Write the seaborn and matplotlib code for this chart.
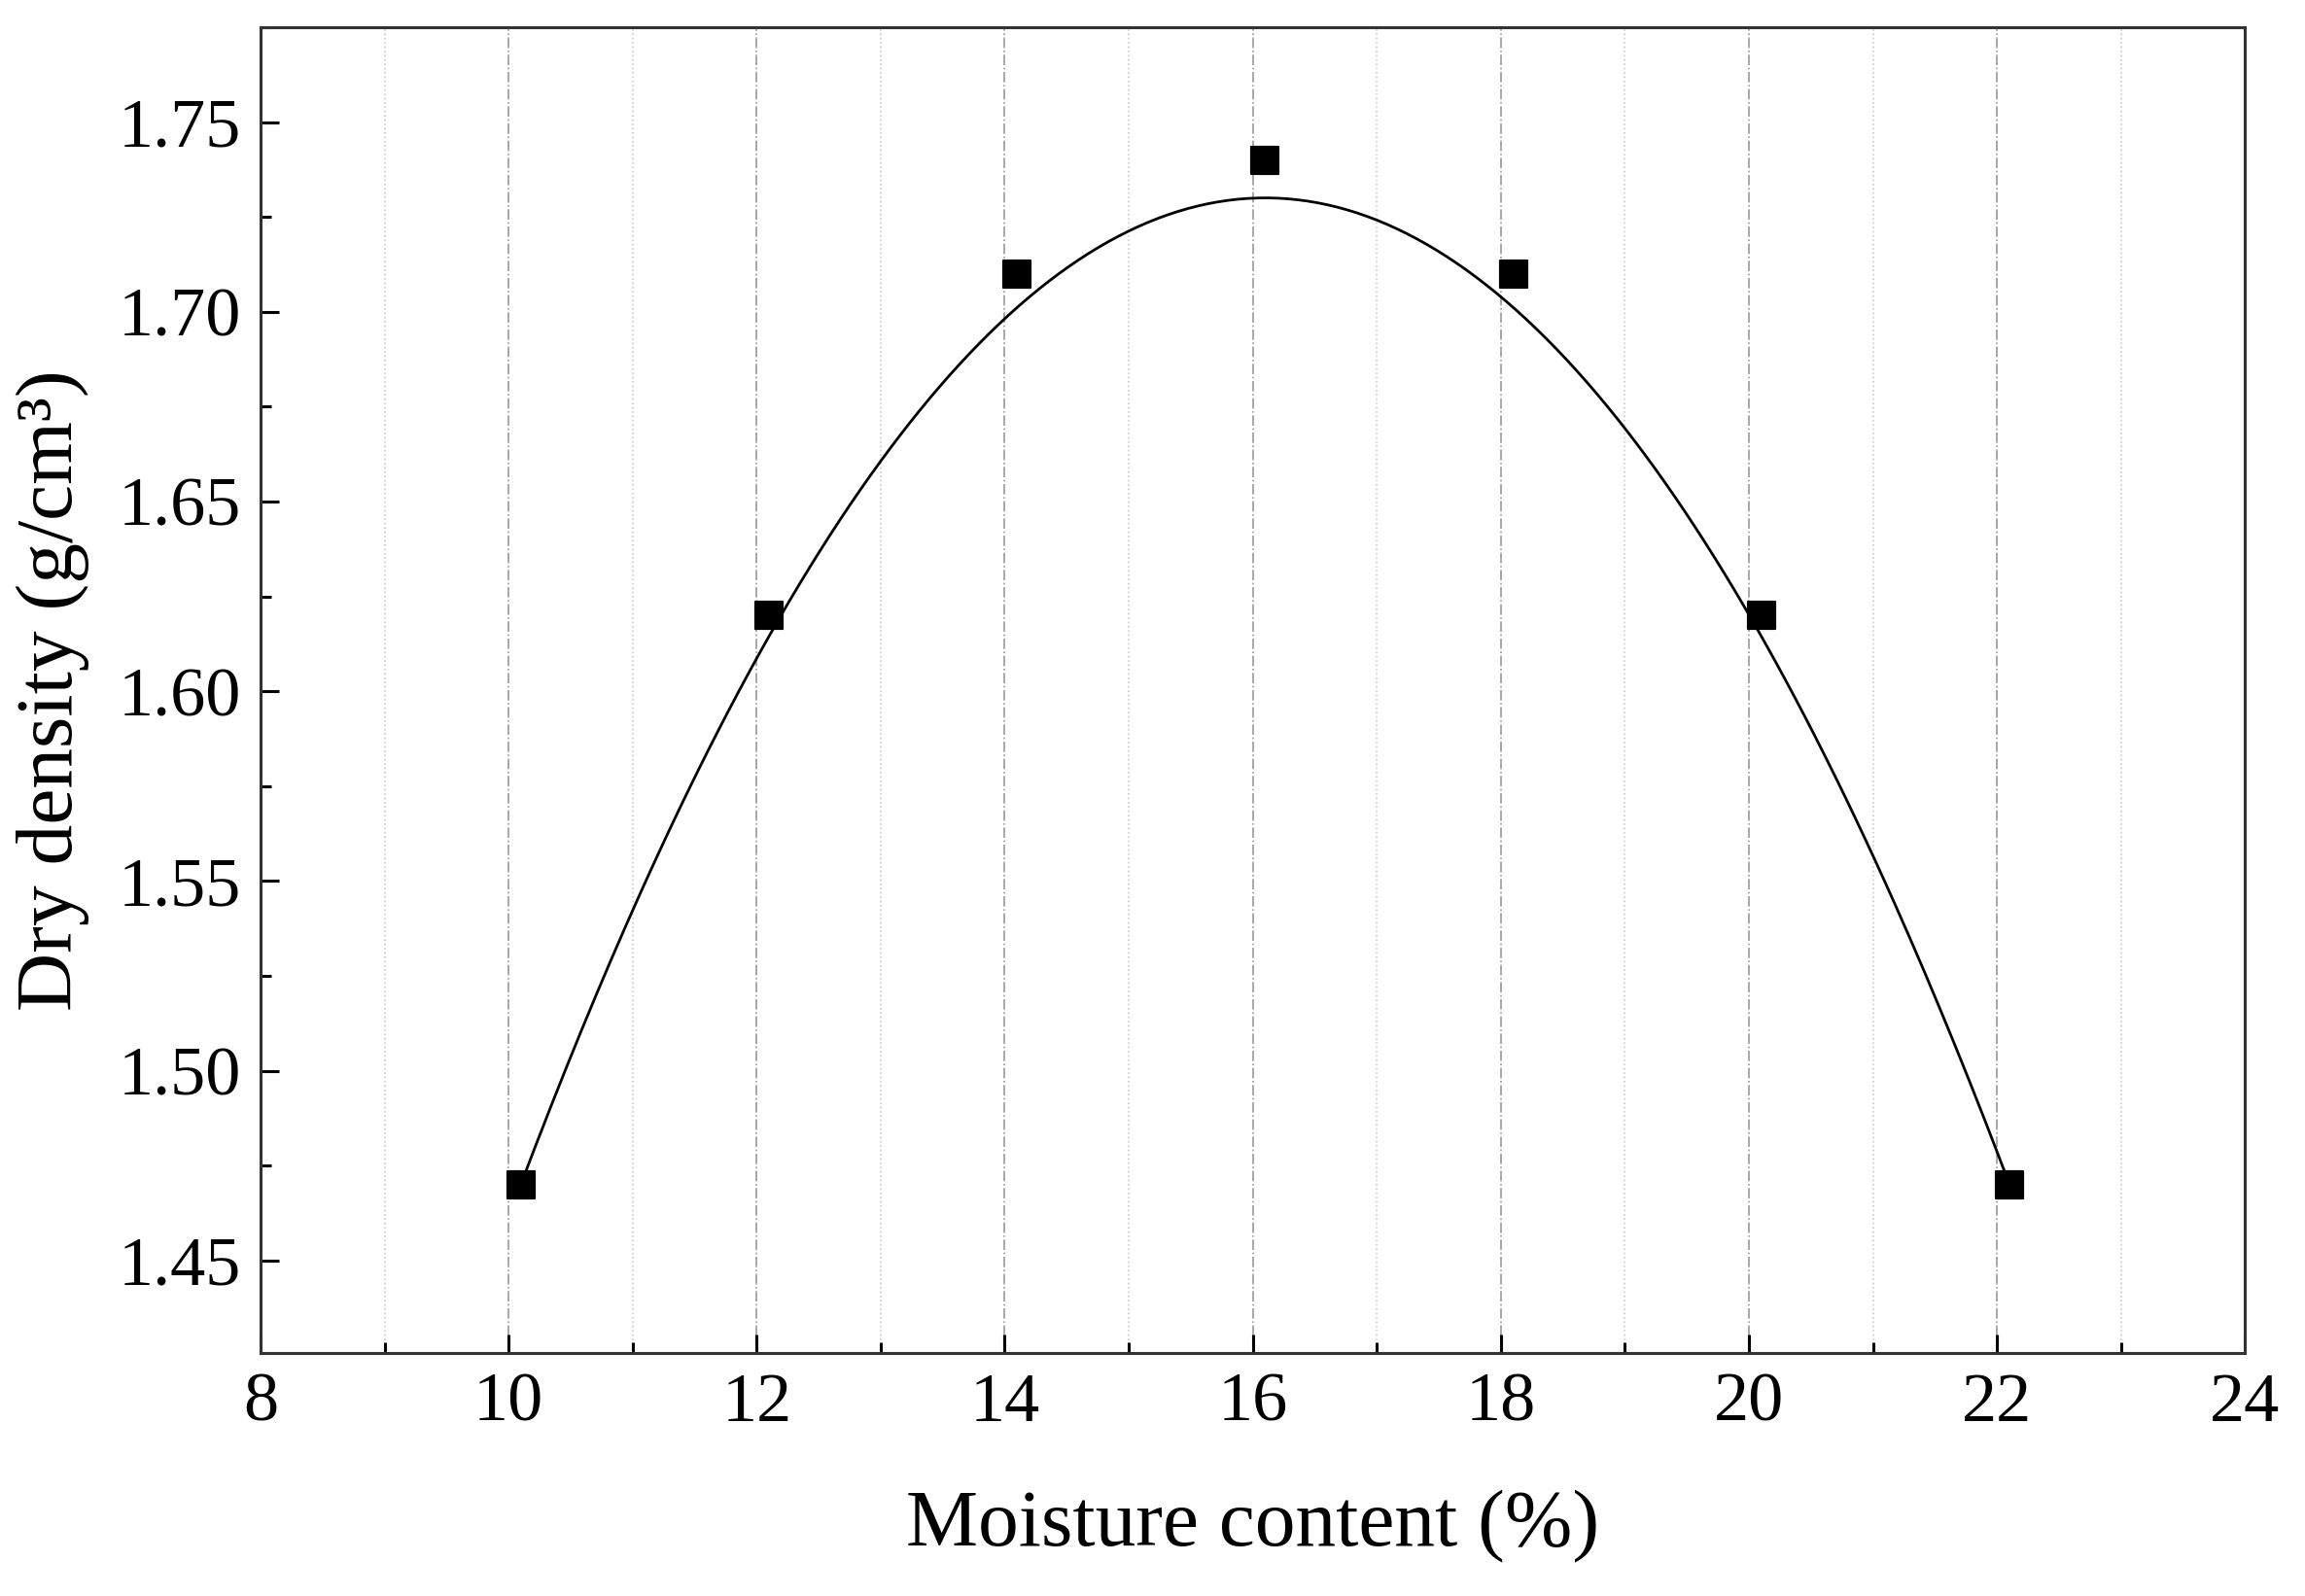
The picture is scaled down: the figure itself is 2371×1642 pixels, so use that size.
import numpy as np
import matplotlib
matplotlib.use("Agg")
import matplotlib.pyplot as plt
import seaborn as sns
from matplotlib.ticker import MultipleLocator

moisture = [10.1, 12.1, 14.1, 16.1, 18.1, 20.1, 22.1]
density = [1.47, 1.62, 1.71, 1.74, 1.71, 1.62, 1.47]

# fitted curve (as drawn in the reference): vertex and curvature
fit_peak_x = 16.1
fit_peak_y = 1.73
fit_curvature = -0.00722

sns.set_style("white")
plt.rcParams['font.family'] = ['Liberation Serif', 'DejaVu Serif']
for k in ['text.color', 'axes.labelcolor', 'xtick.color', 'ytick.color']:
    plt.rcParams[k] = 'black'

fig = plt.figure(figsize=(23.71, 16.42), dpi=100)
ax = fig.add_axes([0.113, 0.152, 0.861, 0.831])

xs = np.linspace(min(moisture), max(moisture), 300)
ax.plot(xs, fit_peak_y + fit_curvature * (xs - fit_peak_x) ** 2, color='black', lw=2)
sns.scatterplot(x=moisture, y=density, marker='s', s=380, color='black', edgecolor='black', ax=ax, zorder=5)

ax.set_xlim(8, 24)
ax.set_ylim(1.4255, 1.775)
ax.xaxis.set_major_locator(MultipleLocator(2))
ax.xaxis.set_minor_locator(MultipleLocator(1))
ax.yaxis.set_major_locator(MultipleLocator(0.05))
ax.yaxis.set_minor_locator(MultipleLocator(0.025))
ax.yaxis.set_major_formatter(matplotlib.ticker.FormatStrFormatter('%.2f'))
ax.grid(True, axis='x', which='major', color='#999999', ls='-.', lw=1.2)
ax.grid(True, axis='x', which='minor', color='#cccccc', ls=':', lw=1.2)
ax.set_axisbelow(True)
for s in ax.spines.values():
    s.set_linewidth(2.2)
    s.set_color('#333333')
ax.tick_params(which='major', direction='in', length=14, width=2.2, labelsize=52, pad=14,
               bottom=True, left=True, top=False, right=False, colors='black')
ax.tick_params(which='minor', direction='in', length=8, width=2.2,
               bottom=True, left=True, top=False, right=False)
ax.set_xlabel('Moisture content (%)', fontsize=60, labelpad=40)
ax.set_ylabel('Dry density (g/cm³)', fontsize=60, labelpad=22)

fig.savefig('out.png', dpi=100)
